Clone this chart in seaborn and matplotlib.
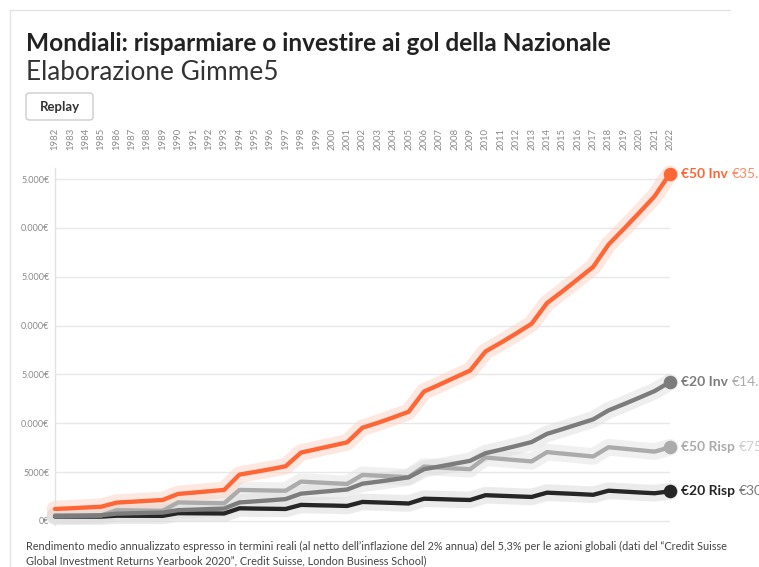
import pandas as pd
import seaborn as sns
import matplotlib.pyplot as plt
from matplotlib.lines import Line2D
from matplotlib.patches import FancyBboxPatch

anni = list(range(1982, 2023))

inv_50 = [1230, 1300, 1380, 1460, 1880, 1970, 2060, 2150, 2770, 2900, 3040, 3180,
          4750, 5020, 5300, 5600, 7000, 7350, 7700, 8050, 9550, 10050, 10600, 11180,
          13250, 13950, 14680, 15400, 17350, 18250, 19200, 20190, 22300, 23500, 24750,
          26000, 28290, 29900, 31550, 33240, 35560]
inv_20 = [500, 520, 550, 590, 750, 790, 830, 860, 1110, 1160, 1220, 1270,
          1900, 2010, 2120, 2240, 2800, 2940, 3080, 3220, 3820, 4020, 4240, 4470,
          5300, 5580, 5870, 6160, 6940, 7300, 7680, 8080, 8920, 9400, 9900,
          10400, 11320, 11960, 12620, 13300, 14220]
risp_50 = [600, 590, 580, 570, 1100, 1080, 1060, 1040, 1900, 1870, 1840, 1810,
           3180, 3150, 3120, 3100, 4030, 3950, 3870, 3790, 4720, 4640, 4560, 4480,
           5570, 5470, 5380, 5300, 6500, 6360, 6230, 6100, 7050, 6900, 6750,
           6600, 7550, 7400, 7250, 7100, 7550]
risp_20 = [460, 455, 450, 445, 540, 535, 530, 525, 800, 790, 780, 770,
           1300, 1270, 1250, 1230, 1650, 1610, 1580, 1540, 1950, 1900, 1850, 1790,
           2280, 2240, 2190, 2150, 2640, 2580, 2520, 2460, 2900, 2830, 2760,
           2680, 3100, 3010, 2920, 2840, 3040]

serie = ["€20 Risp", "€50 Risp", "€20 Inv", "€50 Inv"]
valori_finali = ["€3040", "€7550", "€14.220", "€35.560"]

ytick_valori = [0, 5000, 10000, 15000, 20000, 25000, 30000, 35000]
ytick_testi = ["0€", "5000€", "0.000€", "5.000€", "0.000€", "5.000€", "0.000€", "5.000€"]

titolo = "Mondiali: risparmiare o investire ai gol della Nazionale"
sottotitolo = "Elaborazione Gimme5"
nota = ("Rendimento medio annualizzato espresso in termini reali (al netto dell\u2019inflazione del 2% annua) "
        "del 5,3% per le azioni globali (dati del \u201cCredit Suisse\n"
        "Global Investment Returns Yearbook 2020\u201d, Credit Suisse, London Business School)")

df = pd.DataFrame({"anno": anni * 4,
                   "serie": sum([[s] * len(anni) for s in serie], []),
                   "valore": risp_20 + risp_50 + inv_20 + inv_50})

colori = {"€20 Risp": "#262626", "€50 Risp": "#ababab", "€20 Inv": "#7c7c7c", "€50 Inv": "#fe6636"}
aloni = {"€20 Risp": "#d9d9d9", "€50 Risp": "#e3e3e3", "€20 Inv": "#dedede", "€50 Inv": "#fcd3c4"}
colori_valore = {"€20 Risp": "#7a7a7a", "€50 Risp": "#cfcfcf", "€20 Inv": "#ababab", "€50 Inv": "#fe8a62"}

sns.set_style("white")
plt.rcParams['font.family'] = ['Lato', 'DejaVu Sans']

W, H = 759, 567
fig = plt.figure(figsize=(W / 100, H / 100), dpi=100)
ax = fig.add_axes([55 / W, 1 - 525 / H, 615 / W, 357 / H])

for s in serie:
    d = df[df["serie"] == s]
    sns.lineplot(data=d, x="anno", y="valore", ax=ax, color=aloni[s], linewidth=12,
                 alpha=0.5, solid_capstyle='round', solid_joinstyle='round',
                 clip_on=False, legend=False, zorder=2)
    sns.lineplot(data=d, x="anno", y="valore", ax=ax, color=colori[s], linewidth=3.1,
                 solid_capstyle='round', solid_joinstyle='round',
                 clip_on=False, legend=False, zorder=3)
    ax.scatter([d["anno"].iloc[-1]], [d["valore"].iloc[-1]], s=95, color=colori[s],
               zorder=4, clip_on=False, linewidths=0)

for s, v in zip(serie, valori_finali):
    d = df[df["serie"] == s]
    t = ax.annotate(s, xy=(d["anno"].iloc[-1], d["valore"].iloc[-1]), xytext=(8, 0),
                    textcoords='offset points', va='center', ha='left', fontsize=10,
                    fontweight='bold', color=colori[s], annotation_clip=False)
    ax.annotate(v, xy=(1, 0.5), xycoords=t, xytext=(3, 0), textcoords='offset points',
                va='center', ha='left', fontsize=10, color=colori_valore[s],
                annotation_clip=False)

ax.set_xlim(1982, 2022)
ax.set_ylim(-410, 36130)
ax.set_xticks(anni)
ax.set_xticklabels([str(a) for a in anni], rotation=90, fontsize=6.8, color="#8a8a8a")
ax.xaxis.tick_top()
ax.tick_params(axis='x', length=0, pad=13)
ax.set_yticks(ytick_valori)
ax.set_yticklabels(ytick_testi, fontsize=6.5, color="#8a8a8a")
ax.tick_params(axis='y', length=0, pad=4)
ax.grid(axis='y', color="#e8e8e8", linewidth=1)
ax.grid(axis='x', visible=False)
ax.set_xlabel("")
ax.set_ylabel("")
for lato in ["top", "right", "bottom"]:
    ax.spines[lato].set_visible(False)
ax.spines["left"].set_color("#e2e2e2")
ax.spines["left"].set_linewidth(1)

# cornice e testi
fig.add_artist(Line2D([10 / W, 730 / W], [1 - 10 / H, 1 - 10 / H], color="#e2e2e2", lw=1))
fig.add_artist(Line2D([10 / W, 10 / W], [1 - 10 / H, 0], color="#e2e2e2", lw=1))

fig.text(26 / W, 1 - 51 / H, titolo, fontsize=17.6, fontweight='bold', color="#222222", va='baseline')
fig.text(26 / W, 1 - 80 / H, sottotitolo, fontsize=18.8, color="#333333", va='baseline')

bottone = FancyBboxPatch((26 / W, 1 - 120 / H), 67 / W, 27 / H,
                         boxstyle="round,pad=0,rounding_size=0.005",
                         transform=fig.transFigure, facecolor="white",
                         edgecolor="#cccccc", linewidth=1)
fig.add_artist(bottone)
fig.text(59.5 / W, 1 - 107 / H, "Replay", fontsize=9.5, fontweight='bold',
         color="#333333", ha='center', va='center')

fig.text(26 / W, 1 - 541 / H, nota, fontsize=7.8, color="#444444", va='top',
         linespacing=1.35)

fig.savefig("out.png", dpi=100)
